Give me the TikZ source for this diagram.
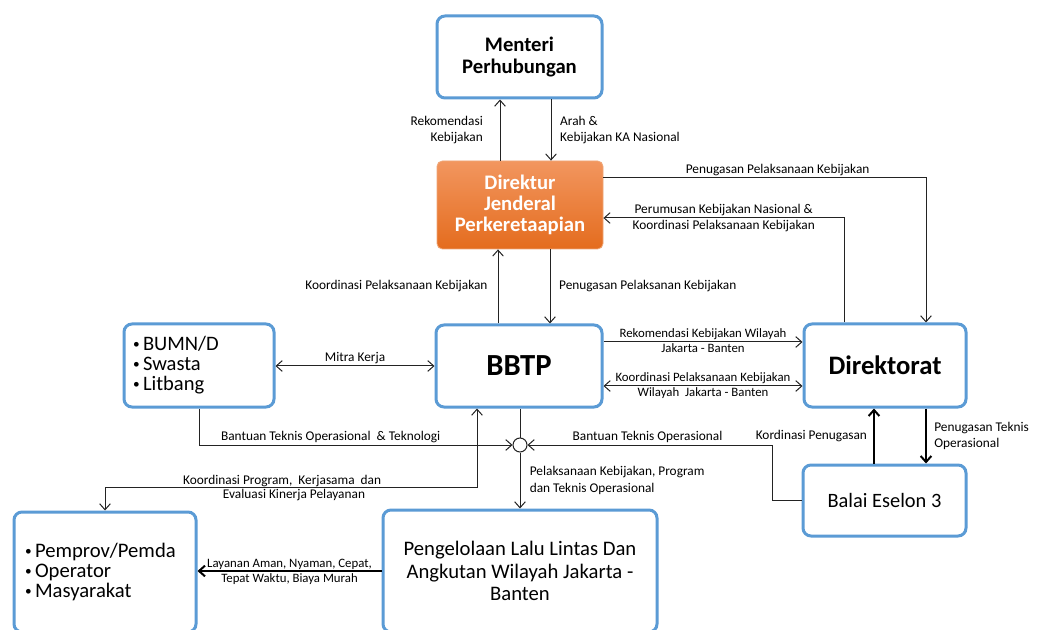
\documentclass[tikz,border=0pt]{standalone}
\usepackage{fontspec}
\setmainfont{Carlito}
\usetikzlibrary{arrows.meta,calc}
\definecolor{boxblue}{RGB}{91,155,213}
\definecolor{ortop}{RGB}{242,150,95}
\definecolor{orbot}{RGB}{228,108,30}
\definecolor{lin}{RGB}{35,35,35}
\newcommand\mybul{\makebox[7.5pt][l]{\raisebox{0.25ex}{\fontsize{10}{10}\selectfont\textbullet}}}
\begin{document}
\begin{tikzpicture}[x=0.75pt,y=-0.75pt,
  >={Straight Barb[length=4.5pt,width=8pt]},
  box/.style={draw=boxblue, line width=2.25pt, rounded corners=6pt, fill=white, inner sep=0pt, align=center},
  wh/.style 2 args={minimum width=#1*0.75pt, minimum height=#2*0.75pt},
  con/.style={draw=lin, line width=0.75pt},
  thk/.style={draw=black, line width=1.5pt},
  lbl/.style={font=\fontsize{10}{12.5}\selectfont, text=black, inner sep=1.5pt, align=center},
  lbls/.style={font=\fontsize{9.6}{12}\selectfont, text=black, inner sep=1.5pt, align=center}
]
\useasboundingbox (0,0) rectangle (1041,630);
\fill[white] (0,0) rectangle (1041,630);
\clip (0,0) rectangle (1041,630);

% boxes
\node[box, wh={165}{82}, font=\bfseries\fontsize{15.5}{16.5}\selectfont] (men) at (519.5,57) {Menteri\\Perhubungan};
\node[draw=orbot!60!white, line width=0.6pt, rounded corners=4pt, top color=ortop, bottom color=orbot, text=white, align=center, inner sep=0pt, wh={166}{88}, font=\bfseries\fontsize{15.5}{16}\selectfont] (dj) at (520,205) {Direktur\\Jenderal\\Perkeretaapian};
\node[box, wh={166}{82}, font=\bfseries\fontsize{23}{26}\selectfont] (bbtp) at (519,366) {BBTP};
\node[box, wh={162}{83}, font=\bfseries\fontsize{20}{24}\selectfont] (dir) at (885,365.5) {Direktorat};
\node[box, wh={150}{83}, text width=99pt, align=left, font=\fontsize{15.4}{15}\selectfont] (bumn) at (199,365.5) {\mybul BUMN/D\\\mybul Swasta\\\mybul Litbang};
\node[box, wh={163}{71}, font=\fontsize{15.3}{18}\selectfont] (balai) at (884.5,500.5) {Balai Eselon 3};
\node[box, wh={182}{120}, text width=120pt, align=left, font=\fontsize{15.5}{15}\selectfont] (pem) at (105,572) {\mybul Pemprov/Pemda\\\mybul Operator\\\mybul Masyarakat};
\node[box, wh={274}{122}, font=\fontsize{15.5}{17}\selectfont] (pen) at (520,571) {Pengelolaan Lalu Lintas Dan\\Angkutan Wilayah Jakarta -\\Banten};
\node[circle, draw=lin, line width=0.75pt, fill=white, minimum size=10.5pt, inner sep=0pt] (circ) at (520,445) {};

% Menteri <-> Dirjen
\draw[con,->] ($(dj.north)+(-20,0)$) coordinate (a1) -- (a1 |- men.south)
  node[lbl, midway, anchor=east, xshift=-11pt, align=right] {Rekomendasi\\Kebijakan};
\draw[con,->] ($(men.south)+(31.5,0)$) coordinate (a2) -- (a2 |- dj.north)
  node[lbl, midway, anchor=west, xshift=5pt, align=left] {Arah \&\\Kebijakan KA Nasional};

% Dirjen <-> Direktorat
\draw[con,->] ($(dj.east)+(0,-27)$) -| node[lbl, pos=0.27, above] {Penugasan Pelaksanaan Kebijakan} ($(dir.north)+(41,0)$);
\draw[con,->] ($(dir.north)+(-41,0)$) |- node[lbl, pos=0.75, above] {Perumusan Kebijakan Nasional \&}
  node[lbl, pos=0.75, below] {Koordinasi Pelaksanaan Kebijakan} ($(dj.east)+(0,13)$);

% Dirjen <-> BBTP
\draw[con,->] ($(bbtp.north)+(-21,0)$) coordinate (a3) -- (a3 |- dj.south)
  node[lbl, midway, anchor=east, xshift=-6pt] {Koordinasi Pelaksanaan Kebijakan};
\draw[con,->] ($(dj.south)+(30,0)$) coordinate (a4) -- (a4 |- bbtp.north)
  node[lbl, midway, anchor=west, xshift=5pt] {Penugasan Pelaksanan Kebijakan};

% BUMN <-> BBTP
\draw[con,<->] (bumn.east |- bbtp.west) -- (bbtp.west)
  node[lbl, midway, above] {Mitra Kerja};

% BBTP <-> Direktorat
\draw[con,->] ($(bbtp.east)+(0,-24)$) coordinate (a5) -- (a5 -| dir.west)
  node[lbls, midway, above, inner sep=1pt] {Rekomendasi Kebijakan Wilayah}
  node[lbls, midway, below, inner sep=1pt] {Jakarta - Banten};
\draw[con,<->] ($(bbtp.east)+(0,20)$) coordinate (a6) -- (a6 -| dir.west)
  node[lbls, midway, above, inner sep=1pt] {Koordinasi Pelaksanaan Kebijakan}
  node[lbls, midway, below, inner sep=1pt] {Wilayah\ \ Jakarta - Banten};

% to junction circle
\draw[con,->] (bumn.south) |- node[lbl, pos=0.71, above] {Bantuan Teknis Operasional\ \ \& Teknologi} (circ.west);
\draw[con,->] (balai.west) -- ++(-29,0) |- node[lbl, pos=0.755, above] {Bantuan Teknis Operasional} (circ.east);
\draw[con] (circ.north |- bbtp.south) -- (circ.north);
\draw[con,->] (circ.south) -- (circ.south |- pen.north)
  node[lbl, midway, anchor=west, xshift=5.5pt, align=left] {Pelaksanaan Kebijakan, Program\\dan Teknis Operasional};

% BBTP <-> Pemprov
\draw[con,<->] ($(bbtp.south)+(-42,0)$) |- node[lbl, pos=0.762, above, inner sep=0.5pt] {Koordinasi Program,\ \ Kerjasama\ \ dan}
  node[lbl, pos=0.746, below, inner sep=1pt] {Evaluasi Kinerja Pelayanan} ($(pem.north)+(0,-23)$) -- (pem.north);

% Direktorat <-> Balai
\draw[thk,->] ($(balai.north)+(-10.5,0)$) coordinate (a7) -- (a7 |- dir.south)
  node[lbl, midway, anchor=east, xshift=-3pt] {Kordinasi Penugasan};
\draw[thk,->] ($(dir.south)+(41,0)$) coordinate (a8) -- (a8 |- balai.north)
  node[lbl, midway, anchor=west, xshift=4pt, align=left] {Penugasan Teknis\\Operasional};

% Pengelolaan -> Pemprov
\draw[thk,->] (pen.west) -- (pen.west -| pem.east)
  node[lbls, midway, above, inner sep=0pt] {Layanan Aman, Nyaman, Cepat,}
  node[lbls, midway, below, inner sep=1pt] {Tepat Waktu, Biaya Murah};
\end{tikzpicture}
\end{document}
